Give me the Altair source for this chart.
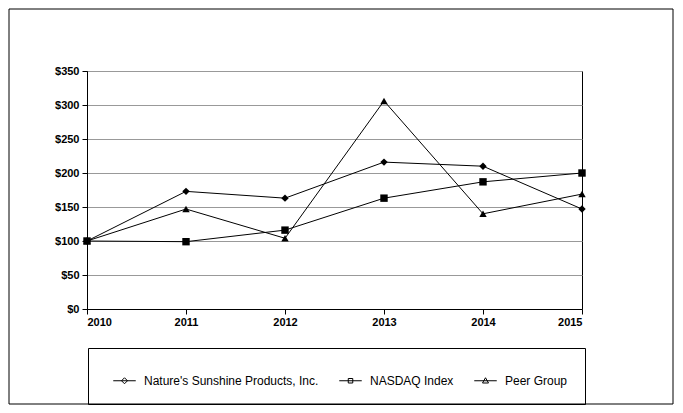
import altair as alt
import pandas as pd

years = [2010, 2011, 2012, 2013, 2014, 2015]
natures = [100, 173, 163, 216, 210, 147]
nasdaq = [100, 99, 116, 163, 187, 200]
peer = [100, 147, 104, 306, 140, 169]
series = ["Nature's Sunshine Products, Inc.", "NASDAQ Index", "Peer Group"]

rows = []
for name, vals in zip(series, [natures, nasdaq, peer]):
    for y, v in zip(years, vals):
        rows.append({"year": y, "value": v, "series": name})
df = pd.DataFrame(rows)

F = "Liberation Sans"
x = alt.X("year:Q", scale=alt.Scale(domain=[2010, 2015], nice=False),
          axis=alt.Axis(values=years, format="d", title=None, grid=False, labelFont=F,
                        labelFontWeight="bold", labelFontSize=11, labelColor="black",
                        domainColor="black", tickColor="black", tickSize=5, labelPadding=2))
y = alt.Y("value:Q", scale=alt.Scale(domain=[0, 350], nice=False),
          axis=alt.Axis(values=[0, 50, 100, 150, 200, 250, 300, 350], format="$d", title=None,
                        grid=True, gridColor="#999999", labelFont=F, labelFontWeight="bold",
                        labelFontSize=11, labelColor="black", domainColor="black",
                        tickColor="black", tickSize=5, labelPadding=3))

base = alt.Chart(df)
lines = base.mark_line(color="black", strokeWidth=1).encode(x=x, y=y, detail="series:N")
pts = base.mark_point(filled=True, color="black", opacity=1, size=55).encode(
    x=x, y=y,
    shape=alt.Shape("series:N", sort=series,
                    scale=alt.Scale(domain=series, range=["diamond", "square", "triangle-up"]),
                    legend=None))
paths = [
    "M-0.75,0H0.75M0,-0.2L0.2,0L0,0.2L-0.2,0Z",
    "M-0.75,0H0.75M-0.15,-0.15H0.15V0.15H-0.15Z",
    "M-0.75,0H0.75M0,-0.2L0.2,0.15L-0.2,0.15Z",
]
leg = base.mark_point(filled=False, color="black", opacity=0, size=1).encode(
    x=x, y=y,
    shape=alt.Shape("series:N", sort=series,
                    scale=alt.Scale(domain=series, range=paths),
                    legend=alt.Legend(title=None, orient="none", legendX=1, legendY=277,
                                      direction="horizontal", symbolOpacity=1,
                                      symbolFillColor="black", symbolStrokeColor="black",
                                      symbolStrokeWidth=1, symbolSize=900,
                                      labelFont=F, labelFontSize=12, labelColor="black",
                                      labelLimit=300,
                                      strokeColor="black", padding=17, columnPadding=12,
                                      labelOffset=4, symbolOffset=4)))
border = alt.Chart(pd.DataFrame({"a": [0]})).mark_rect(
    fill=None, stroke="black", strokeWidth=1, clip=False).encode(
    x=alt.value(-78), x2=alt.value(586), y=alt.value(-62), y2=alt.value(333))

chart = alt.layer(border, lines, pts, leg).resolve_scale(shape="independent").properties(
    width=495, height=238,
    title=alt.Title("Comparison of Cumulative Five Year Total Return", font=F,
                    fontSize=12, fontWeight="bold", color="black", offset=26, anchor="middle"),
    autosize=alt.AutoSizeParams(type="none"),
    padding={"left": 79, "top": 63, "right": 93, "bottom": 96},
).configure_view(stroke="black", strokeWidth=1)

chart.save("out.html", embed_options={"renderer": "svg", "actions": False})
